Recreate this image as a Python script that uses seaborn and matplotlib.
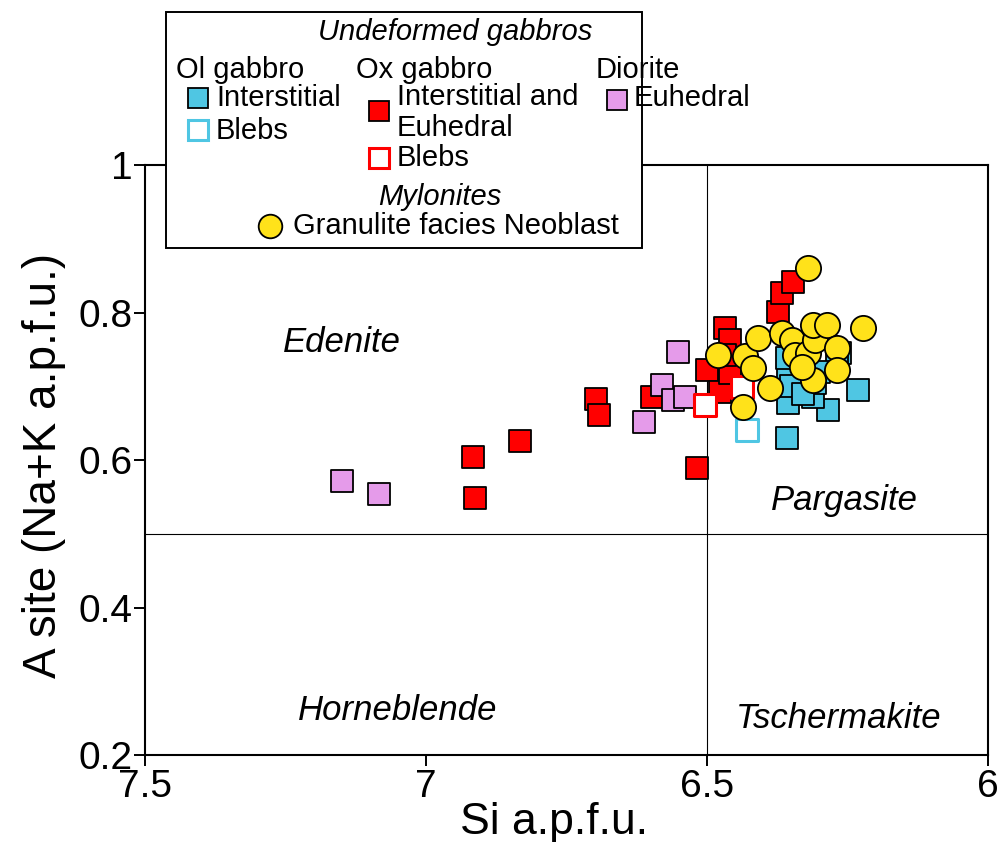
import matplotlib
matplotlib.use("Agg")
import matplotlib.pyplot as plt
import seaborn as sns
from matplotlib.lines import Line2D
from matplotlib.patches import Rectangle

sns.set_theme(style="white")
plt.rcParams['font.family'] = ['Liberation Sans', 'DejaVu Sans']
plt.rcParams['text.color'] = 'black'
plt.rcParams['axes.labelcolor'] = 'black'
plt.rcParams['xtick.color'] = 'black'
plt.rcParams['ytick.color'] = 'black'

# Ol gabbro, interstitial amphibole (Si, A-site)
ol_int_si = [6.358, 6.231, 6.285, 6.356, 6.356, 6.358, 6.311, 6.263, 6.308, 6.268, 6.350, 6.330, 6.300]
ol_int_a = [0.630, 0.695, 0.668, 0.677, 0.713, 0.738, 0.685, 0.745, 0.705, 0.731, 0.700, 0.690, 0.720]
# Ol gabbro, blebs
ol_bleb_si = [6.429]
ol_bleb_a = [0.641]
# Ox gabbro, interstitial and euhedral
ox_int_si = [6.916, 6.913, 6.833, 6.697, 6.692, 6.598, 6.518, 6.500, 6.477, 6.459,
             6.468, 6.459, 6.374, 6.367, 6.347, 6.468]
ox_int_a = [0.604, 0.548, 0.626, 0.683, 0.661, 0.685, 0.589, 0.722, 0.692, 0.718,
            0.779, 0.763, 0.801, 0.826, 0.841, 0.742]
# Ox gabbro, blebs
ox_bleb_si = [6.503, 6.437]
ox_bleb_a = [0.675, 0.699]
# Diorite, euhedral
dio_si = [7.149, 7.084, 6.552, 6.580, 6.560, 6.539, 6.612]
dio_a = [0.572, 0.554, 0.746, 0.702, 0.681, 0.685, 0.652]
# Mylonites, granulite facies neoblasts
myl_si = [6.320, 6.222, 6.480, 6.432, 6.409, 6.418, 6.436, 6.388, 6.367, 6.349,
          6.343, 6.320, 6.308, 6.311, 6.286, 6.268, 6.268, 6.311, 6.331]
myl_a = [0.860, 0.779, 0.742, 0.741, 0.766, 0.725, 0.672, 0.698, 0.772, 0.763,
         0.742, 0.745, 0.763, 0.783, 0.783, 0.752, 0.722, 0.709, 0.726]

field_names = ["Edenite", "Pargasite", "Horneblende", "Tschermakite"]
field_si = [7.15, 6.255, 7.05, 6.265]
field_a = [0.76, 0.545, 0.26, 0.25]

CYAN = "#4FC6E3"
RED = "#FF0000"
PURPLE = "#E59BEA"
YELLOW = "#FFE21A"

fig = plt.figure(figsize=(10.03, 8.42), dpi=100)
ax = fig.add_axes([0.1446, 0.1033, 0.8405, 0.7007])

sq = 250
sns.scatterplot(x=ox_int_si, y=ox_int_a, ax=ax, marker="s", s=sq, color=RED,
                edgecolor="black", linewidth=1.3, zorder=3)
sns.scatterplot(x=dio_si, y=dio_a, ax=ax, marker="s", s=sq, color=PURPLE,
                edgecolor="black", linewidth=1.3, zorder=3)
sns.scatterplot(x=ol_int_si, y=ol_int_a, ax=ax, marker="s", s=sq, color=CYAN,
                edgecolor="black", linewidth=1.3, zorder=3)
sns.scatterplot(x=ox_bleb_si, y=ox_bleb_a, ax=ax, marker="s", s=sq, facecolor="white",
                edgecolor=RED, linewidth=2.2, zorder=3)
sns.scatterplot(x=ol_bleb_si, y=ol_bleb_a, ax=ax, marker="s", s=sq, facecolor="white",
                edgecolor=CYAN, linewidth=2.2, zorder=3)
sns.scatterplot(x=myl_si, y=myl_a, ax=ax, marker="o", s=330, color=YELLOW,
                edgecolor="black", linewidth=1.3, zorder=4)

ax.axvline(6.5, color="black", lw=0.8, zorder=1)
ax.axhline(0.5, color="black", lw=0.8, zorder=1)

for name, xs, ys in zip(field_names, field_si, field_a):
    ax.text(xs, ys, name, fontsize=25, style="italic", ha="center", va="center")

ax.set_xlim(7.5, 6.0)
ax.set_ylim(0.2, 1.0)
ax.set_xticks([7.5, 7, 6.5, 6])
ax.set_xticklabels(["7.5", "7", "6.5", "6"])
ax.set_yticks([0.2, 0.4, 0.6, 0.8, 1.0])
ax.set_yticklabels(["0.2", "0.4", "0.6", "0.8", "1"])
ax.tick_params(axis="both", direction="out", length=8, width=1.4, labelsize=28,
               bottom=True, left=True)
ax.tick_params(axis="x", pad=2)
ax.tick_params(axis="y", pad=1)
for sp in ax.spines.values():
    sp.set_color("black")
    sp.set_linewidth(1.5)
ax.set_xlabel("Si a.p.f.u.", fontsize=32)
ax.set_ylabel("A site (Na+K a.p.f.u.)", fontsize=33)
ax.xaxis.set_label_coords(0.485, -0.08)
ax.yaxis.set_label_coords(-0.094, 0.49)

# Legend panel in figure pixel coordinates
W, H = 1003, 842
def fx(px):
    return px / W
def fy(py):
    return 1 - py / H

fig.patches.append(Rectangle((fx(166), fy(248)), fx(642) - fx(166), fy(12) - fy(248),
                             transform=fig.transFigure, facecolor="white",
                             edgecolor="black", lw=1.4, zorder=10))

def ltext(px, py, s, ha="left", italic=False):
    fig.text(fx(px), fy(py), s, fontsize=21, ha=ha, va="center",
             style="italic" if italic else "normal", zorder=11)

def lmark(px, py, marker, face, edge, lw, ms):
    fig.add_artist(Line2D([fx(px)], [fy(py)], marker=marker, markersize=ms,
                          markerfacecolor=face, markeredgecolor=edge,
                          markeredgewidth=lw, linestyle="none",
                          transform=fig.transFigure, zorder=11))

ltext(455, 32, "Undeformed gabbros", ha="center", italic=True)
ltext(176, 70, "Ol gabbro")
ltext(356, 70, "Ox gabbro")
ltext(596, 70, "Diorite")
lmark(198, 98, "s", CYAN, "black", 1.3, 15)
ltext(216, 98, "Interstitial")
lmark(198, 130, "s", "white", CYAN, 2.2, 15)
ltext(216, 131, "Blebs")
lmark(379, 111, "s", RED, "black", 1.3, 15)
ltext(397, 97, "Interstitial and")
ltext(397, 128, "Euhedral")
lmark(379, 158, "s", "white", RED, 2.2, 15)
ltext(397, 158, "Blebs")
lmark(617, 100, "s", PURPLE, "black", 1.3, 15)
ltext(634, 98, "Euhedral")
ltext(440, 197, "Mylonites", ha="center", italic=True)
lmark(270, 226, "o", YELLOW, "black", 1.3, 17)
ltext(293, 226, "Granulite facies Neoblast")

fig.savefig("out.png", dpi=100, facecolor="white")
